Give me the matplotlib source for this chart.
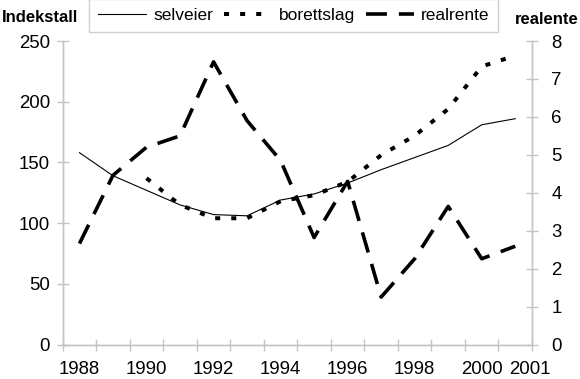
import matplotlib
matplotlib.use("Agg")
import matplotlib.pyplot as plt
import numpy as np

plt.rcParams['font.family'] = ['Liberation Sans', 'DejaVu Sans']

years = [1988, 1989, 1990, 1991, 1992, 1993, 1994, 1995, 1996, 1997, 1998, 1999, 2000, 2001]
tick_labels = ["1988", "1990", "1992", "1994", "1996", "1998", "2000", "2001"]
selveier = [158, 139, 127, 115, 107, 106, 119, 124, 133, 144, 154, 164, 181, 186]
borettslag = [np.nan, np.nan, 137, 115, 104, 104, 118, 123, 134, 156, 172, 194, 229, 238]
realrente = [2.66, 4.46, 5.2, 5.5, 7.45, 5.9, 4.85, 2.82, 4.3, 1.25, 2.26, 3.64, 2.26, 2.59]

W, H = 580, 379
fig = plt.figure(figsize=(W / 100, H / 100), dpi=100)
ax_l, ax_r, ax_b, ax_t = 62.7, 532, 344.5, 41
ax = fig.add_axes([ax_l / W, 1 - ax_b / H, (ax_r - ax_l) / W, (ax_b - ax_t) / H])
ax2 = ax.twinx()

x = np.arange(len(years))
gray = '#c4c4c4'

l1, = ax.plot(x, selveier, color='black', lw=0.8, label='selveier')
l2, = ax.plot(x, borettslag, color='black', lw=2.9, dashes=(1.25, 2.75),
              dash_capstyle='butt', label='borettslag')
l3, = ax2.plot(x, realrente, color='black', lw=2.6, dashes=(5.8, 3.3),
               dash_capstyle='butt', label='realrente')

ax.set_xlim(-0.5, len(years) - 0.5)
ax.set_ylim(0, 250)
ax2.set_ylim(0, 8)
ax.set_yticks(np.arange(0, 251, 50))
ax2.set_yticks(np.arange(0, 9, 1))

# x labels: every second year plus the last one
label_pos = [0, 2, 4, 6, 8, 10, 12, 13.45]
ax.set_xticks(label_pos)
ax.set_xticklabels(tick_labels)
ax.set_xticks(np.arange(-0.5, len(years), 1), minor=True)
ax.tick_params(axis='x', which='major', length=0, pad=12, labelsize=13.4)
ax.tick_params(axis='x', which='minor', direction='inout', length=8, color=gray, width=1)
ax.tick_params(axis='y', direction='inout', length=8, color=gray, width=1, pad=5, labelsize=13.4)
ax2.tick_params(axis='y', direction='inout', length=8, color=gray, width=1, pad=10, labelsize=13.4)

for a in (ax, ax2):
    for s in a.spines.values():
        s.set_color(gray)
        s.set_linewidth(1)
    a.spines['top'].set_visible(False)

fig.text(2 / W, 1 - 17 / H, 'Indekstall', fontsize=12, fontweight='bold', ha='left', va='center')
fig.text(515 / W, 1 - 19 / H, 'realente', fontsize=12, fontweight='bold', ha='left', va='center')

leg = fig.legend(handles=[l1, l2, l3], loc='upper left', ncol=3,
                 bbox_to_anchor=(89 / W, 1 + 1 / H), borderaxespad=0,
                 fontsize=12.5, handlelength=2.8, handletextpad=0.4,
                 columnspacing=0.6, borderpad=0.5, frameon=True, fancybox=False)
leg.get_frame().set_edgecolor(gray)
leg.get_frame().set_linewidth(1)

fig.savefig('out.png', dpi=100)
